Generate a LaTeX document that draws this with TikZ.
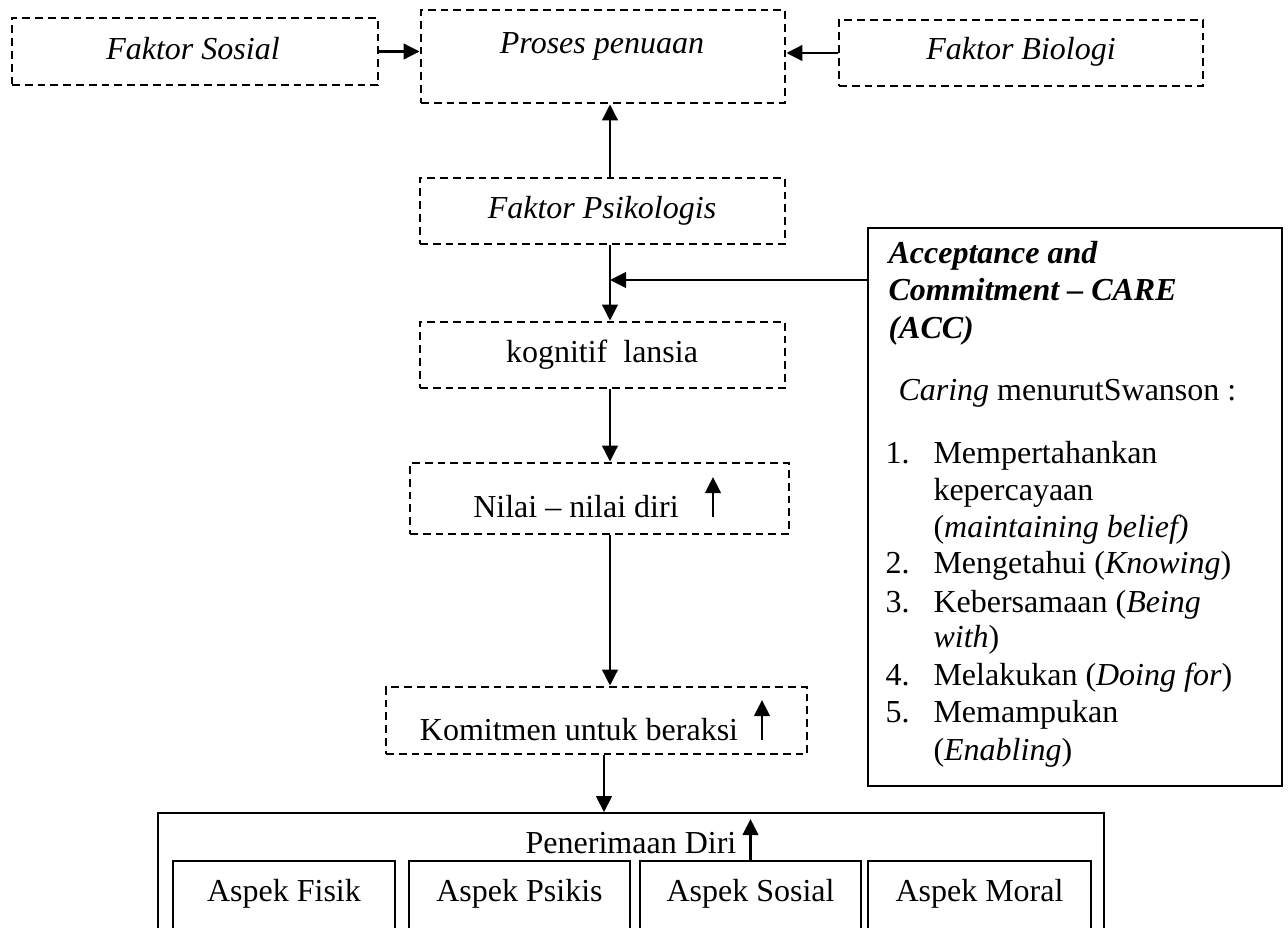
\documentclass[tikz,border=0pt]{standalone}
\usepackage{fontspec}
\setmainfont{Liberation Serif}
\usetikzlibrary{arrows.meta,calc}
\begin{document}
\begin{tikzpicture}[x=0.375pt,y=-0.375pt,
  txt/.style={font=\fontsize{12}{13.9}\selectfont, inner sep=0pt, anchor=base},
  ltxt/.style={font=\fontsize{12}{13.9}\selectfont, inner sep=0pt, anchor=base west},
  dbox/.style={draw, line width=1.05pt, dash pattern=on 2.9pt off 1.9pt, inner sep=0pt},
  abox/.style={draw, line width=1.1pt, inner sep=0pt, minimum height=31.5pt},
  tbox/.style={draw, line width=0.6pt, inner sep=0pt},
  arr/.style={line width=1pt, -{Triangle[length=6pt,width=5.8pt]}}]
\clip (0,0) rectangle (1288,928);
\fill[white] (0,0) rectangle (1288,928);

% top row
\node[dbox, minimum width=137.25pt, minimum height=25.125pt] (sos) at (195,51.5) {};
\node[txt] (sost) at (193,60) {\itshape Faktor Sosial};
\node[dbox, minimum width=136.5pt, minimum height=34.875pt] (pro) at (603,56.5) {};
\node[txt] (prot) at (602,53) {\itshape Proses penuaan};
\node[dbox, minimum width=136.5pt, minimum height=24.75pt] (bio) at (1021,53) {};
\node[txt] (biot) at (1021,60) {\itshape Faktor Biologi};

% centre column
\node[dbox, minimum width=136.875pt, minimum height=24.75pt] (psi) at (602.5,211) {};
\node[txt] (psit) at (602,218) {\itshape Faktor Psikologis};
\node[dbox, minimum width=136.875pt, minimum height=24.75pt] (kog) at (602.5,355) {};
\node[txt] (kogt) at (602,362) {kognitif\ \ lansia};
\node[dbox, minimum width=142.125pt, minimum height=26.625pt] (nil) at (599.5,498.5) {};
\node[txt] (nilt) at (576,517) {Nilai – nilai diri};
\node[dbox, minimum width=157.875pt, minimum height=25.125pt] (kom) at (596.5,720.5) {};
\node[txt] (komt) at (579,740) {Komitmen untuk beraksi};

% ACC box
\node[tbox, minimum width=155.25pt, minimum height=209.25pt] (acc) at (1075,507) {};
\node[ltxt] (a1) at (888,263) {\bfseries\itshape Acceptance and};
\node[ltxt] (a2) at (888,300) {\bfseries\itshape Commitment – CARE};
\node[ltxt] (a3) at (888,338) {\bfseries\itshape (ACC)};
\node[ltxt] (a4) at (898,400) {\textit{Caring} menurutSwanson :};
\node[ltxt] (a5) at (885,463) {\makebox[18pt][l]{1.}Mempertahankan};
\node[ltxt] (a6) at (933,500) {kepercayaan};
\node[ltxt] (a7) at (933,537) {(\textit{maintaining belief)}};
\node[ltxt] (a8) at (885,573) {\makebox[18pt][l]{2.}Mengetahui (\textit{Knowing})};
\node[ltxt] (a9) at (885,612) {\makebox[18pt][l]{3.}Kebersamaan (\textit{Being}};
\node[ltxt] (a10) at (933,647) {\textit{with})};
\node[ltxt] (a11) at (885,685) {\makebox[18pt][l]{4.}Melakukan (\textit{Doing for})};
\node[ltxt] (a12) at (885,722) {\makebox[18pt][l]{5.}Memampukan};
\node[ltxt] (a13) at (933,760) {(\textit{Enabling})};

% bottom
\node[tbox, minimum width=354.75pt, minimum height=47.625pt] (pen) at (631,876.5) {};
\node[txt] (pent) at (631,853) {Penerimaan Diri};
\node[abox, minimum width=83.25pt] (fis) at (284,903) {};
\node[txt] (fist) at (284,901) {Aspek Fisik};
\node[abox, minimum width=82.875pt] (psk) at (519.5,903) {};
\node[txt] (pskt) at (519.5,901) {Aspek Psikis};
\node[abox, minimum width=82.875pt] (sosl) at (750.5,903) {};
\node[txt] (soslt) at (750.5,901) {Aspek Sosial};
\node[abox, minimum width=83.625pt] (mor) at (979.5,903) {};
\node[txt] (mort) at (979.5,901) {Aspek Moral};

% connectors
\draw[arr] (sos.east) -- (sos.east -| pro.west);
\draw[arr] (bio.west) -- (bio.west -| pro.east);
\coordinate (psiN) at ($(psi.north)+(7.5,0)$);
\draw[arr] (psiN) -- (psiN |- pro.south);
\coordinate (psiS) at ($(psi.south)+(7.5,0)$);
\draw[arr] (psiS) -- (psiS |- kog.north);
\coordinate (j) at (610,280);
\draw[arr] (acc.west |- j) -- (j);
\coordinate (kogS) at ($(kog.south)+(7.5,0)$);
\draw[arr] (kogS) -- (kogS |- nil.north);
\coordinate (nilS) at ($(nil.south)+(10.5,0)$);
\draw[arr] (nilS) -- (nilS |- kom.north);
\coordinate (komS) at ($(kom.south)+(7.5,0)$);
\draw[arr] (komS) -- (komS |- pen.north);

% small up arrows
\coordinate (n1) at (713,517); \coordinate (n2) at (713,477);
\draw[arr] (n1) -- (n2);
\coordinate (k1) at (762,740); \coordinate (k2) at (762,700);
\draw[arr] (k1) -- (k2);
\coordinate (s2) at (750.5,819);
\draw[arr] (sosl.north) -- (s2);
\end{tikzpicture}
\end{document}
